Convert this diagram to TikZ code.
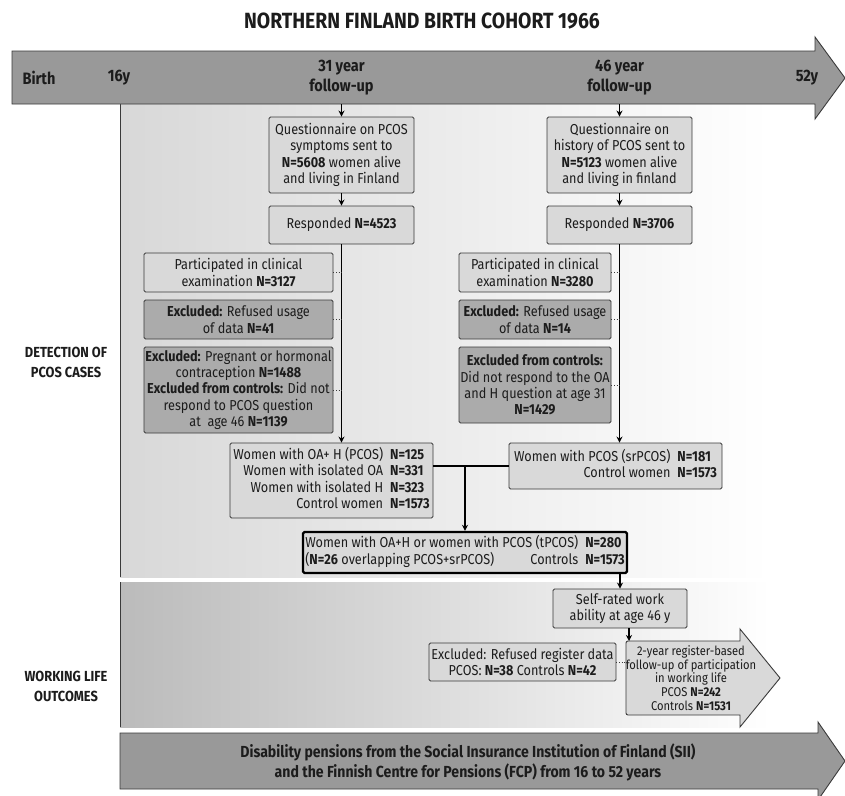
\documentclass[tikz,border=0pt]{standalone}
\usepackage{fontspec}
\setmainfont{Fira Sans}[FakeStretch=0.88]
\usetikzlibrary{arrows.meta,calc}
\definecolor{boxfill}{HTML}{D9D9D9}
\definecolor{exfill}{HTML}{ABABAB}
\definecolor{bandfill}{HTML}{999999}
\definecolor{edge}{HTML}{3A3A3A}
\definecolor{ink}{HTML}{1C1C1C}
\definecolor{panelA}{HTML}{D8D8D8}
\definecolor{panelB}{HTML}{BBBBBB}
\newcommand\bodyfont{\fontsize{14.4}{16.4}\selectfont}
\newcommand\arrowfont{\fontsize{12.7}{13.7}\selectfont}
\newcommand\lblfont{\fontsize{14.6}{20}\selectfont\bfseries}
\newcommand\bandfont{\fontsize{16.5}{20}\selectfont\bfseries}
\begin{document}
\begin{tikzpicture}[x=1pt,y=-1pt,
  box/.style={draw=edge, fill=boxfill, line width=0.9pt, rounded corners=1.5pt,
    align=center, font=\bodyfont, text=ink, inner sep=0pt},
  exbox/.style={box, fill=exfill},
  thickbox/.style={box, draw=black, line width=2.4pt},
  lbl/.style={font=\lblfont, text=ink, align=center, inner sep=0pt},
  bandlbl/.style={lbl, font=\bandfont},
  conn/.style={draw=black, line width=1.1pt},
  arr/.style={conn, -{Stealth[length=6pt,width=6pt]}},
  dots/.style={draw=edge, line width=0.6pt, dotted}
]
\useasboundingbox (0,0) rectangle (845,795);
\fill[white] (0,0) rectangle (845,795);

% title
\node[font=\fontsize{22}{24}\selectfont\bfseries, text=ink, inner sep=0pt] (title) at (422,21) {NORTHERN FINLAND BIRTH COHORT 1966};

% background panels
\shade[left color=panelA, right color=white] (120,104) rectangle (770,577);
\shade[left color=panelB, right color=white] (120,582) rectangle (770,727);
\draw[edge, line width=0.8pt] (120,104) -- (120,577);
\draw[edge, line width=0.8pt] (120,582) -- (120,727);

% top time arrow
\draw[edge, fill=bandfill, line width=0.9pt] (12,51) -- (815,51) -- (815,37) -- (845,78) -- (815,119) -- (815,104) -- (12,104) -- cycle;
\node[bandlbl] (birth) at (39,78) {Birth};
\node[bandlbl] (y16) at (119,78) {16y};
\node[bandlbl] (y31) at (341.5,78) {31 year\\follow-up};
\node[bandlbl] (y46) at (619.5,78) {46 year\\follow-up};
\node[bandlbl] (y52) at (807,78) {52y};
\coordinate (b31) at (341.5,104);
\coordinate (b46) at (619.5,104);

% left labels
\node[lbl] (det) at (66,362) {DETECTION OF\\PCOS CASES};
\node[lbl] (wl) at (66,686) {WORKING LIFE\\OUTCOMES};

% 31 year column
\node[box, minimum width=145pt, minimum height=76pt] (q1) at (341.5,155) {Questionnaire on PCOS\\symptoms sent to\\\textbf{N=5608} women alive\\and living in Finland};
\node[box, minimum width=145pt, minimum height=38pt] (r1) at (341.5,225) {Responded \textbf{N=4523}};
\node[box, minimum width=189pt, minimum height=39pt] (p1) at (238.5,272.5) {Participated in clinical\\examination \textbf{N=3127}};
\node[exbox, minimum width=189pt, minimum height=39pt] (e1a) at (238.5,319.5) {\textbf{Excluded:} Refused usage\\of data \textbf{N=41}};
\node[exbox, minimum width=189pt, minimum height=86pt] (e1b) at (238.5,390) {\textbf{Excluded:} Pregnant or hormonal\\contraception \textbf{N=1488}\\\textbf{Excluded from controls:} Did not\\respond to PCOS question\\at\ \ age 46 \textbf{N=1139}};
\node[box, minimum width=203pt, minimum height=75pt] (w1) at (331.5,480.5) {\begin{tabular}{@{}r@{\hspace{7pt}}l@{}}Women with OA+ H (PCOS) & \textbf{N=125}\\Women with isolated OA & \textbf{N=331}\\Women with isolated H & \textbf{N=323}\\Control women & \textbf{N=1573}\end{tabular}};

% 46 year column
\node[box, minimum width=145pt, minimum height=76pt] (q2) at (619.5,155) {Questionnaire on\\history of PCOS sent to\\\textbf{N=5123} women alive\\and living in finland};
\node[box, minimum width=145pt, minimum height=38pt] (r2) at (619.5,225) {Responded \textbf{N=3706}};
\node[box, minimum width=152pt, minimum height=39pt] (p2) at (535,272.5) {Participated in clinical\\examination \textbf{N=3280}};
\node[exbox, minimum width=152pt, minimum height=39pt] (e2a) at (535,319.5) {\textbf{Excluded:} Refused usage\\of data \textbf{N=14}};
\node[exbox, minimum width=152pt, minimum height=76pt] (e2b) at (535,385) {\textbf{Excluded from controls:}\\Did not respond to the OA\\and H question at age 31\\\textbf{N=1429}};
\node[box, minimum width=213pt, minimum height=46pt] (w2) at (615.5,466) {\begin{tabular}{@{}r@{\hspace{7pt}}l@{}}Women with PCOS (srPCOS) & \textbf{N=181}\\Control women & \textbf{N=1573}\end{tabular}};

% combined
\node[thickbox, minimum width=324pt, minimum height=41pt] (t) at (465,552.5) {\begin{tabular}{@{}l@{\hspace{7pt}}l@{}}Women with OA+H or women with PCOS (tPCOS) & \textbf{N=280}\\(\textbf{N=26} overlapping PCOS+srPCOS)\hfill Controls & \textbf{N=1573}\end{tabular}};

% working life
\node[box, minimum width=134pt, minimum height=39pt] (s) at (620,608.5) {Self-rated work\\ability at age 46 y};
\node[box, minimum width=187pt, minimum height=38pt] (ex) at (522.5,662) {Excluded: Refused register data\\PCOS: \textbf{N=38} Controls \textbf{N=42}};
\draw[edge, fill=boxfill, line width=0.9pt] (740,641) -- (740,629) -- (780,678) -- (740,727) -- (740,715)
  [rounded corners=2pt] -- (626,715) -- (626,641) [sharp corners] -- cycle;
\coordinate (fin) at (629,641);
\coordinate (fw) at (626,662);
\node[font=\arrowfont, text=ink, align=center, inner sep=0pt] (f) at (691,678) {2-year register-based\\follow-up of participation\\in working life\\PCOS \textbf{N=242}\\Controls \textbf{N=1531}};

% bottom arrow
\draw[edge, fill=bandfill, line width=0.9pt] (120,733) -- (818,733) -- (818,722) -- (845,761) -- (818,800) -- (818,789) -- (120,789) -- cycle;
\node[lbl, font=\fontsize{16}{20}\selectfont\bfseries] (dis) at (468,762) {Disability pensions from the Social Insurance Institution of Finland (SII)\\and the Finnish Centre for Pensions (FCP) from 16 to 52 years};

% connectors
\draw[arr] (b31) -- (q1.north);
\draw[arr] (q1.south) -- (r1.north);
\draw[arr] (r1.south) -- (r1.south |- w1.north);
\draw[arr] (b46) -- (q2.north);
\draw[arr] (q2.south) -- (r2.north);
\draw[arr] (r2.south) -- (r2.south |- w2.north);
\draw[dots] (p1.east) -- (p1.east -| r1.south);
\draw[dots] (e1a.east) -- (e1a.east -| r1.south);
\draw[dots] (e1b.east) -- (e1b.east -| r1.south);
\draw[dots] (p2.east) -- (p2.east -| r2.south);
\draw[dots] (e2a.east) -- (e2a.east -| r2.south);
\draw[dots] (e2b.east) -- (e2b.east -| r2.south);
\draw[conn] (w1.east |- w2.west) -- (w2.west);
\draw[arr] (t.north |- w2.west) -- (t.north);
\draw[arr] (t.south -| s.north) -- (s.north);
\draw[arr] (s.south -| fin) -- (fin);
\draw[dots] (ex.east) -- (fw);
\end{tikzpicture}
\end{document}
